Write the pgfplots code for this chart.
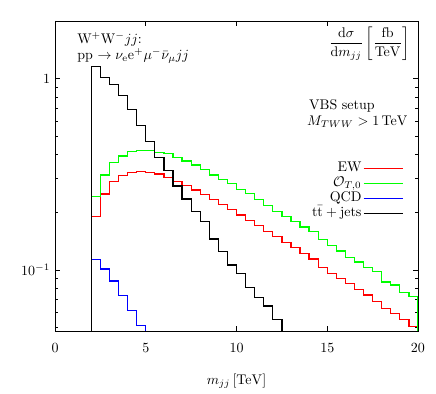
\RequirePackage{fix-cm}
\documentclass[border=0pt]{standalone}
\usepackage{pgfplots}
\pgfplotsset{compat=1.18}
\usepackage{pgfplotstable}
\usepackage{amsmath}

\pgfplotstableread{
x y
2 1e-4
2 0.190
2.5 0.249
3 0.290
3.5 0.311
4 0.323
4.5 0.326
5 0.323
5.5 0.317
6 0.305
6.5 0.291
7 0.277
7.5 0.262
8 0.248
8.5 0.234
9 0.220
9.5 0.207
10 0.194
10.5 0.181
11 0.170
11.5 0.159
12 0.149
12.5 0.139
13 0.131
13.5 0.122
14 0.114
14.5 0.103
15 0.0961
15.5 0.0905
16 0.0850
16.5 0.0793
17 0.0740
17.5 0.0682
18 0.0630
18.5 0.0593
19 0.0552
19.5 0.0507
20 1e-4
}\ewdata

\pgfplotstableread{
x y
2 1e-4
2 0.2426
2.5 0.3132
3 0.3645
3.5 0.3937
4 0.4173
4.5 0.4224
5 0.4213
5.5 0.4123
6 0.4049
6.5 0.3882
7 0.3708
7.5 0.3533
8 0.3350
8.5 0.3132
9 0.2977
9.5 0.2830
10 0.2623
10.5 0.2509
11 0.2339
11.5 0.2163
12 0.2029
12.5 0.1894
13 0.1784
13.5 0.1674
14 0.1587
14.5 0.1436
15 0.1336
15.5 0.1257
16 0.1165
16.5 0.1101
17 0.1033
17.5 0.0980
18 0.0865
18.5 0.0834
19 0.0761
19.5 0.0728
20 1e-4
}\otdata

\pgfplotstableread{
x y
2 1e-4
2 0.1138
2.5 0.1012
3 0.0876
3.5 0.0734
4 0.0612
4.5 0.0511
5 1e-4
20 1e-4
}\qcddata

\pgfplotstableread{
x y
2 1e-4
2 1.152
2.5 1.012
3 0.930
3.5 0.815
4 0.688
4.5 0.567
5 0.468
5.5 0.388
6 0.330
6.5 0.275
7 0.235
7.5 0.202
8 0.179
8.5 0.145
9 0.125
9.5 0.106
10 0.0961
10.5 0.0807
11 0.0716
11.5 0.0648
12 0.0552
12.5 1e-4
20 1e-4
}\ttdata

\begin{document}
\begin{tikzpicture}
\begin{axis}[
  width=259.3pt, height=221.4pt, scale only axis,
  xmin=0, xmax=20, ymode=log, ymin=0.048, ymax=2,
  xtick={0,5,10,15,20},
  ytick={0.1,1}, yticklabels={$10^{-1}$,$1$},
  minor ytick={0.05,0.06,0.07,0.08,0.09,0.2,0.3,0.4,0.5,0.6,0.7,0.8,0.9,2},
  tick align=inside,
  major tick length=3.57pt, minor tick length=1.8pt,
  every tick/.style={black, line width=0.4pt},
  axis line style={line width=0.6pt},
  xlabel={$m_{jj}\,[\mathrm{TeV}]$},
  xlabel style={yshift=-8pt},
  xticklabel style={yshift=-5.7pt},
  legend plot pos=right,
  legend cell align=right,
  legend style={draw=none, fill=none, at={(rel axis cs:0.96,0.55)}, anchor=north east,
     inner sep=0pt, row sep=0pt,
     nodes={inner sep=1pt, text height=6.7pt, text depth=2pt}},
  legend image code/.code={\draw[#1,mark=none,line width=0.9pt] (0pt,0pt) -- (27.9pt,0pt);},
  every axis plot/.append style={line width=0.9pt, const plot},
]
\addplot[red] table {\ewdata};
\addlegendentry{EW}
\addplot[color={rgb,255:red,0;green,255;blue,0}] table {\otdata};
\addlegendentry{$\mathcal{O}_{T,0}$}
\addplot[blue] table {\qcddata};
\addlegendentry{QCD}
\addplot[black] table {\ttdata};
\addlegendentry{$\mathrm{t}\bar{\mathrm{t}}+\text{jets}$}

\node[anchor=base west, inner sep=0pt] at (rel axis cs:0.0606,0.927) {W$^+$W$^-jj$:};
\node[anchor=base west, inner sep=0pt] at (rel axis cs:0.0606,0.877) {pp $\to\nu_\mathrm{e}\mathrm{e}^+\mu^-\bar{\nu}_\mu jj$};
\node[anchor=east, inner sep=0pt] at (rel axis cs:0.978,0.926) {$\dfrac{\mathrm{d}\sigma}{\mathrm{d}m_{jj}}\left[\dfrac{\mathrm{fb}}{\mathrm{TeV}}\right]$};
\node[anchor=base east, inner sep=0pt] at (rel axis cs:0.8815,0.713) {VBS setup};
\node[anchor=base east, inner sep=0pt] at (rel axis cs:0.972,0.663) {$M_{TWW}>1\,\mathrm{TeV}$};
\end{axis}
\pgfresetboundingbox
\path[use as bounding box] ([shift={(-39.3pt,-45pt)}]current axis.south west) rectangle ([shift={(12.86pt,15pt)}]current axis.north east);
\end{tikzpicture}
\end{document}
